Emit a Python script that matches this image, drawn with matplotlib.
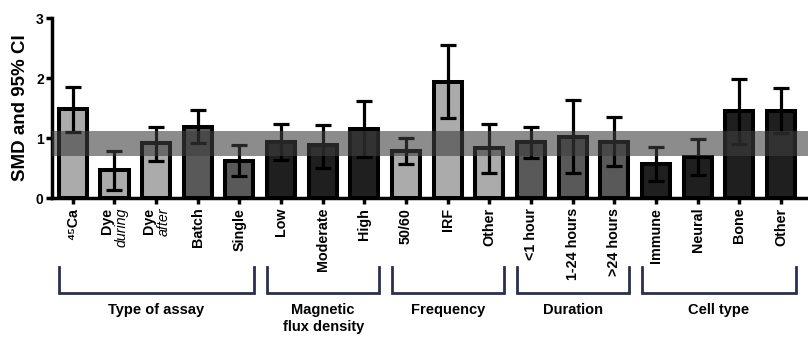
import matplotlib
matplotlib.use("Agg")
import matplotlib.pyplot as plt
import matplotlib.transforms as mtransforms
from matplotlib import font_manager as fm
import numpy as np

# ---- data ----
categories = ["\u2074\u2075Ca", "Dye\nduring", "Dye\nafter", "Batch", "Single",
              "Low", "Moderate", "High",
              "50/60", "IRF", "Other",
              "<1 hour", "1-24 hours", ">24 hours",
              "Immune", "Neural", "Bone", "Other"]
smd = [1.49, 0.47, 0.91, 1.19, 0.62,
       0.94, 0.88, 1.15,
       0.79, 1.94, 0.84,
       0.94, 1.02, 0.94,
       0.57, 0.69, 1.45, 1.45]
ci_low = [1.10, 0.13, 0.61, 0.92, 0.36,
          0.63, 0.50, 0.69,
          0.56, 1.33, 0.41,
          0.67, 0.41, 0.53,
          0.28, 0.38, 0.90, 1.08]
ci_high = [1.85, 0.79, 1.18, 1.46, 0.88,
           1.24, 1.22, 1.62,
           1.00, 2.55, 1.24,
           1.19, 1.63, 1.35,
           0.85, 0.99, 1.98, 1.83]
shade = ["light", "light", "light", "mid", "mid",
         "dark", "dark", "dark",
         "light", "light", "light",
         "mid", "mid", "mid",
         "dark", "dark", "dark", "dark"]
groups = ["Type of assay", "Magnetic\nflux density", "Frequency", "Duration", "Cell type"]
group_first = [0, 5, 8, 11, 14]
group_last = [4, 7, 10, 13, 17]
overall_ci = [0.70, 1.12]
yticks = [0, 1, 2, 3]

shade_colors = {"light": "#ababab", "mid": "#595959", "dark": "#1f1f1f"}

names = {f.name for f in fm.fontManager.ttflist}
base_font = "Liberation Sans" if "Liberation Sans" in names else "DejaVu Sans"
narrow_font = "Liberation Sans Narrow" if "Liberation Sans Narrow" in names else base_font
plt.rcParams["font.family"] = [base_font, "DejaVu Sans"]

fig = plt.figure(figsize=(8.08, 3.46), dpi=100)
ax = fig.add_axes([52 / 808, 1 - 198 / 346, (808 - 52) / 808, 180 / 346])

x = np.arange(len(categories))
lo = np.array(smd) - np.array(ci_low)
hi = np.array(ci_high) - np.array(smd)

ax.bar(x, smd, width=0.675, color=[shade_colors[s] for s in shade],
       edgecolor="black", linewidth=2.9, zorder=2)
ax.errorbar(x, smd, yerr=[lo, hi], fmt="none", ecolor="black",
            elinewidth=2.3, capsize=6, capthick=2.3, zorder=3)
ax.axhspan(overall_ci[0], overall_ci[1], color="#3f3f3f", alpha=0.6,
           linewidth=0, zorder=4)

ax.set_xlim(-0.5, 17.65)
ax.set_ylim(0, 3)
ax.set_yticks(yticks)
ax.set_yticklabels([str(t) for t in yticks], fontsize=10, fontweight="bold")
ax.set_ylabel("SMD and 95% CI", fontsize=13.5, fontweight="bold", labelpad=5)

for s in ["top", "right"]:
    ax.spines[s].set_visible(False)
for s in ["left", "bottom"]:
    ax.spines[s].set_linewidth(2.5)
ax.tick_params(axis="both", width=2.5, length=4, direction="out")
ax.tick_params(axis="y", pad=2)

ax.set_xticks(x)
ax.set_xticklabels(["" if "\n" in c else c for c in categories],
                   rotation=90, fontsize=10.3, fontweight="bold",
                   va="top", ha="center")
ax.tick_params(axis="x", pad=3)

# two-line labels (bold + italic)
xtrans = ax.get_xaxis_transform()
for i, c in enumerate(categories):
    if "\n" in c:
        first, second = c.split("\n")
        t1 = mtransforms.offset_copy(xtrans, fig=fig, x=-7.5, y=-10, units="dots")
        t2 = mtransforms.offset_copy(xtrans, fig=fig, x=7.5, y=-10, units="dots")
        ax.text(i, 0, first, transform=t1, rotation=90, ha="center", va="top",
                fontsize=10.3, fontweight="bold")
        ax.text(i, 0, second, transform=t2, rotation=90, ha="center", va="top",
                fontsize=10.3, fontstyle="italic")

# group brackets
br_top = -0.383
br_bot = -0.528
for name, f, l in zip(groups, group_first, group_last):
    x0 = f - 0.33
    x1 = l + 0.35
    ax.plot([x0, x0, x1, x1], [br_top, br_bot, br_bot, br_top],
            transform=xtrans, color="#2b2f4f", linewidth=2.0,
            clip_on=False, solid_joinstyle="miter")
    ax.text((x0 + x1) / 2, -0.583, name, transform=xtrans, ha="center",
            va="top", fontsize=10.5, fontweight="bold", family=[narrow_font, "DejaVu Sans"],
            linespacing=1.3)

fig.savefig("out.png", dpi=100)
